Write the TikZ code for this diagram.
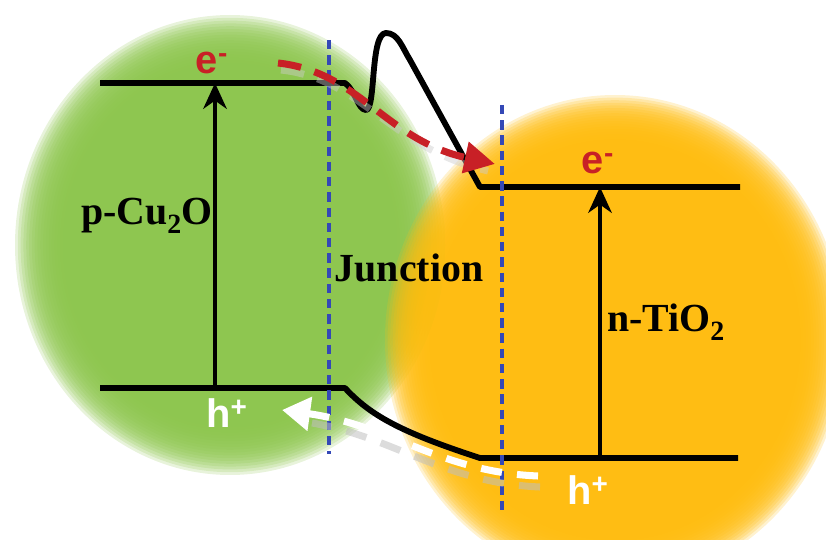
\documentclass[tikz,border=0pt]{standalone}
\usepackage{fontspec}
\setmainfont{Liberation Serif}
\newfontfamily\labelfont{Liberation Sans}
\usepackage{xcolor}
\usetikzlibrary{arrows.meta, positioning}

\definecolor{cugreen}{RGB}{140,197,76}
\definecolor{tiorange}{RGB}{255,188,14}
\definecolor{juncblue}{RGB}{52,72,182}
\definecolor{elecred}{RGB}{200,32,38}

\begin{document}
\begin{tikzpicture}[x=0.03cm, y=-0.03cm,
    band/.style={line width=5pt, line join=round},
    gap/.style={-{Stealth[length=22pt, width=20pt, inset=7pt]}, line width=3.6pt},
    junc/.style={draw=juncblue, line width=3.8pt, dash pattern=on 8pt off 5pt},
    layer/.style={opacity=0.2},
    carrier/.style={font=\labelfont\bfseries\fontsize{34}{34}\selectfont},
    mat/.style={font=\bfseries\fontsize{34}{34}\selectfont}]
    \useasboundingbox (0,0) rectangle (826,540);

    % particles, soft edge built from stacked layers
    \foreach \k in {0,...,17}
        \fill[cugreen, layer] (230,245) ellipse ({215-2.8*\k} and {230-2.8*\k});
    \foreach \k in {0,...,17}
        \fill[tiorange, layer] (615,340) ellipse ({230-2.6*\k} and {245-2.6*\k});

    % band edges
    \coordinate (cuCB) at (215,83);
    \coordinate (cuVB) at (215,388);
    \coordinate (tiCB) at (600,187);
    \coordinate (tiVB) at (600,458);
    \draw[band] (100,83) -- (345,83)
        .. controls (355,90) and (358,110) .. (366,110)
        .. controls (376,110) and (370,33) .. (386,33)
        .. controls (398,33) and (402,47) .. (410,60)
        -- (480,187) -- (740,187);
    \draw[band] (100,388) -- (345,388)
        .. controls (370,415) and (400,432) .. (480,458) -- (738,458);

    % junction borders
    \draw[junc] (329,40) -- (329,454);
    \draw[junc] (502,105) -- (502,516);

    % band gaps
    \draw[gap] (cuVB) -- (cuCB);
    \draw[gap] (tiVB) -- (tiCB);

    % electron / hole transfer
    \draw[gray!40, opacity=0.45, line width=6pt, dash pattern=on 20pt off 12pt]
        (281,70) .. controls (363,79) and (388,147) .. (488,171);
    \draw[elecred, line width=6pt, dash pattern=on 20pt off 12pt,
        -{Triangle[length=26pt, width=26pt]}]
        (278,63) .. controls (360,72) and (385,140) .. (495,164);
    \draw[gray!50, opacity=0.55, line width=6pt, dash pattern=on 18pt off 13pt]
        (540,487) .. controls (444,483) and (394,437) .. (312,423);
    \draw[white, line width=6pt, dash pattern=on 18pt off 13pt,
        -{Triangle[length=24pt, width=28pt]}]
        (538,476) .. controls (440,472) and (390,425) .. (282,410);

    % labels
    \node[carrier, text=elecred] (eCu) at (212,63) {e\textsuperscript{-}};
    \node[carrier, text=elecred] (eTi) at (598,163) {e\textsuperscript{-}};
    \node[carrier, text=white] (hCu) at (227,413) {h\textsuperscript{+}};
    \node[carrier, text=white] (hTi) at (588,490) {h\textsuperscript{+}};
    \node[mat] (cu2o) at (147,216) {p-Cu\textsubscript{2}O};
    \node[mat] (junction) at (409,268) {Junction};
    \node[mat] (tio2) at (666,322) {n-TiO\textsubscript{2}};
\end{tikzpicture}
\end{document}
